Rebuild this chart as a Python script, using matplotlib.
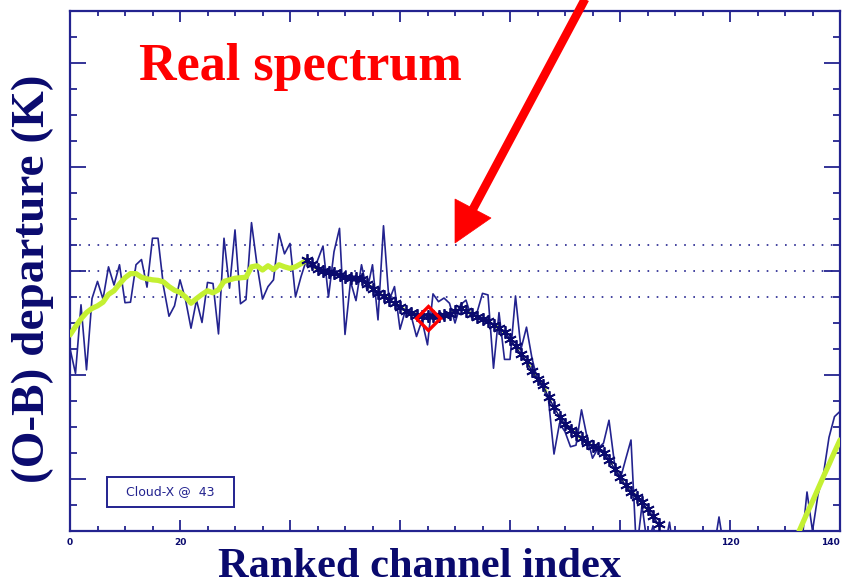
import numpy as np
import matplotlib
matplotlib.use("Agg")
import matplotlib.pyplot as plt
from matplotlib.patches import Rectangle, Polygon
from matplotlib.lines import Line2D

# ---- data -----------------------------------------------------------------
channels = np.arange(0, 141)

# observed-minus-background departures for every ranked channel (K)
raw_departure = [
    -1.49, -1.97, -0.65, -1.90, -0.53, -0.20, -0.54, 0.08, -0.27, 0.12,
    -0.61, -0.60, 0.12, 0.22, -0.31, 0.63, 0.63, -0.30, -0.87, -0.67,
    -0.17, -0.55, -1.10, -0.56, -0.99, -0.22, -0.24, -1.21, 0.63, -0.33,
    0.79, -0.63, -0.55, 0.93, 0.12, -0.54, -0.30, -0.17, 0.72, 0.33,
    0.53, -0.50, -0.11, 0.22, 0.05, 0.20, 0.48, -0.50, 0.37, 0.82,
    -1.22, -0.20, -0.57, 0.12, -0.38, 0.12, -0.94, 0.87, -0.57, -0.30,
    -1.12, -0.75, -0.85, -1.26, -0.95, -1.42, -0.44, -0.59, -0.52, -0.62,
    -1.00, -0.65, -0.56, -0.90, -0.80, -0.43, -0.46, -1.87, -0.80, -1.70,
    -1.70, -0.48, -1.50, -1.08, -1.68, -2.10, -2.25, -2.48, -3.52, -2.93,
    -3.09, -3.38, -3.35, -2.67, -3.19, -3.60, -3.41, -3.31, -2.87, -3.70,
    -4.02, -3.63, -3.25, -5.40, -4.50, -5.30, -4.90, -5.30, -5.40, -4.83,
    -5.60, -5.50, -5.70, -5.60, -5.50, -5.80, -5.60, -5.40, -4.73, -5.40,
    -5.60, -5.70, -5.50, -5.80, -5.60, -5.70, -5.50, -5.60, -5.80, -5.70,
    -5.60, -5.50, -5.40, -5.30, -4.25, -5.00, -4.30, -3.90, -3.20, -2.80,
    -2.70,
]

# smoothed departures (K); nan where the curve lies far below the plot
smoothed_departure = [
    -1.23, -1.07, -0.92, -0.80, -0.72, -0.67, -0.60, -0.45, -0.38, -0.25,
    -0.13, -0.05, -0.05, -0.12, -0.15, -0.17, -0.18, -0.21, -0.30, -0.37,
    -0.41, -0.50, -0.62, -0.53, -0.45, -0.38, -0.42, -0.36, -0.20, -0.17,
    -0.14, -0.13, -0.12, 0.08, 0.10, 0.02, 0.10, 0.03, 0.12, 0.08,
    0.05, 0.08, 0.14, 0.21, 0.13, 0.03, 0.00, -0.01, -0.04, -0.07,
    -0.11, -0.14, -0.13, -0.16, -0.25, -0.34, -0.42, -0.48, -0.55, -0.62,
    -0.69, -0.76, -0.80, -0.84, -0.86, -0.87, -0.87, -0.87, -0.85, -0.82,
    -0.76, -0.72, -0.76, -0.83, -0.89, -0.93, -0.97, -1.03, -1.10, -1.18,
    -1.30, -1.45, -1.60, -1.73, -1.93, -2.08, -2.20, -2.42, -2.62, -2.80,
    -2.95, -3.05, -3.13, -3.22, -3.30, -3.36, -3.41, -3.50, -3.63, -3.80,
    -3.96, -4.12, -4.25, -4.34, -4.45, -4.58, -4.72, -4.87, -5.05, np.nan,
    np.nan, np.nan, np.nan, np.nan, np.nan, np.nan, np.nan, np.nan, np.nan, np.nan,
    np.nan, np.nan, np.nan, np.nan, np.nan, np.nan, np.nan, np.nan, np.nan, np.nan,
    np.nan, -5.38, -5.14, -4.90, -4.66, -4.43, -4.19, -3.95, -3.72, -3.48,
    -3.25,
]

# channels flagged by the detection scheme (drawn with asterisks)
flagged_first, flagged_last = 43, 107
# selected cloud-top channel
cloud_channel = 65
cloud_value = -0.90

reference_levels = [-0.5, 0.0, 0.5]
x_tick_values = [0, 20, 40, 60, 80, 100, 120, 140]
x_tick_labels = ["0", "20", "", "", "", "", "120", "140"]
legend_text = "Cloud-X @  43"

# ---- style ----------------------------------------------------------------
NAVY = "#23238f"
DARK = "#0a0a6e"
LIME = "#c4f032"
RED = "#ff0000"

raw = np.array(raw_departure)
smooth = np.array(smoothed_departure)
flag = (channels >= flagged_first) & (channels <= flagged_last)

fig = plt.figure(figsize=(8.42, 5.86), dpi=100)
fig.patch.set_facecolor("white")
ax = fig.add_axes([70 / 842, 1 - 531 / 586, 770 / 842, 520 / 586])
ax.set_xlim(0, 140)
ax.set_ylim(-5, 5)

for y in reference_levels:
    ax.axhline(y, color=NAVY, lw=1.2, linestyle=(0, (1, 4.5)), zorder=1)

# raw spectrum
ax.plot(channels, raw, color=NAVY, lw=1.2, zorder=2)

# smoothed spectrum: thick outside the flagged range, dashed beneath it
thick_left = channels <= flagged_first
thick_right = channels > flagged_last
ax.plot(channels[thick_left], smooth[thick_left], color=LIME, lw=3.8,
        solid_capstyle="round", zorder=3)
ax.plot(channels[thick_right], smooth[thick_right], color=LIME, lw=3.8,
        solid_capstyle="round", zorder=3)
mid = (channels >= flagged_first) & (channels <= flagged_last + 1)
ax.plot(channels[mid], smooth[mid], color=LIME, lw=2.4,
        linestyle=(0, (1.5, 1.5)), zorder=3)

# flagged channels
ax.plot(channels[flag], smooth[flag], color=DARK, lw=1.0,
        marker=(6, 2, 0), markersize=9, markeredgewidth=1.3,
        markeredgecolor=DARK, zorder=4)

# cloud-top marker
ax.plot([cloud_channel], [cloud_value], marker="D", markersize=12.5,
        markerfacecolor="none", markeredgecolor=RED, markeredgewidth=2.4,
        zorder=5)

# axes frame and ticks
for s in ax.spines.values():
    s.set_color(NAVY)
    s.set_linewidth(1.6)
ax.set_xticks(x_tick_values)
ax.set_xticklabels(x_tick_labels)
ax.set_xticks(np.arange(0, 141, 5), minor=True)
ax.set_yticks(np.arange(-4, 4.1, 2))
ax.set_yticks(np.arange(-5, 5.01, 0.5), minor=True)
ax.set_yticklabels([])
ax.tick_params(which="both", direction="in", top=True, right=True,
               color=NAVY, width=1.3)
ax.tick_params(axis="x", which="major", length=8, labelsize=6.5,
               labelcolor=DARK, pad=5)
ax.tick_params(axis="x", which="minor", length=3.8)
ax.tick_params(axis="y", which="major", length=11.5)
ax.tick_params(axis="y", which="minor", length=5)
for lab in ax.get_xticklabels():
    lab.set_fontweight("bold")
# the last label sits against the figure edge
ax.get_xticklabels()[-1].set_horizontalalignment("right")

# legend box
ax.add_patch(Rectangle((6.7, -4.54), 23.1, 0.58, fill=False,
                       edgecolor=NAVY, lw=1.4, zorder=6))
ax.text(18.25, -4.25, legend_text, ha="center", va="center",
        fontsize=9, color=NAVY, family="DejaVu Sans", zorder=6)

# titles
serif = ["Liberation Serif", "DejaVu Serif"]
fig.text(300 / 842, 1 - 67 / 586, "Real spectrum", color=RED,
         fontsize=37.5, fontweight="bold", family=serif,
         ha="center", va="center")
fig.text(420 / 842, 1 - 567 / 586, "Ranked channel index", color=DARK,
         fontsize=30.5, fontweight="bold", family=serif,
         ha="center", va="center")
fig.text(33 / 842, 1 - 279 / 586, "(O-B) departure (K)", color=DARK,
         fontsize=34, fontweight="bold", family=serif, rotation=90,
         ha="center", va="center")

# pointer arrow
tr = fig.transFigure
def fp(x, y):
    return (x / 842, 1 - y / 586)

shaft = Line2D([fp(592, -14)[0], fp(473, 209)[0]],
               [fp(592, -14)[1], fp(473, 209)[1]],
               transform=tr, color=RED, lw=6.2, solid_capstyle="butt")
fig.add_artist(shaft)
head = Polygon([fp(455, 243), fp(455, 199), fp(491, 218)], closed=True,
               transform=tr, facecolor=RED, edgecolor=RED, lw=0.5)
fig.add_artist(head)

fig.savefig("out.png", dpi=100, facecolor="white")
